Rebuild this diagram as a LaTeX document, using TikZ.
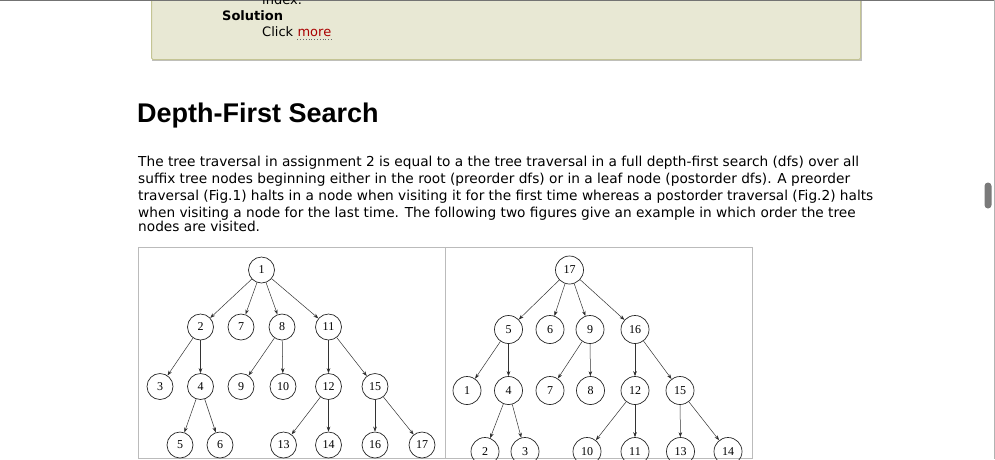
\documentclass[tikz,border=0pt]{standalone}
\usepackage{fontspec}
\setmainfont{DejaVu Sans}
\newfontfamily\headfont{Liberation Sans}
\newfontfamily\treefont{Liberation Serif}
\usetikzlibrary{arrows.meta,positioning}
\definecolor{boxfill}{HTML}{E8E8D4}
\definecolor{boxline}{HTML}{C4C494}
\definecolor{linkred}{HTML}{AA0000}
\definecolor{figline}{HTML}{BBBBBB}
\tikzset{
  txt/.style={inner sep=0pt,anchor=base west,font=\fontsize{13}{16}\selectfont},
  para/.style={txt,font=\fontsize{13.7}{16}\selectfont},
  vtx/.style={circle,draw=black!85,line width=.7pt,minimum size=26pt,inner sep=0pt,
    font=\treefont\fontsize{12}{13}\selectfont},
  bigvtx/.style={vtx,minimum size=28pt},
  tree/.style={draw=black!80,line width=.5pt,-{Stealth[length=5pt,width=3.6pt]}}
}
\begin{document}
\begin{tikzpicture}[x=1pt,y=-1pt]
\useasboundingbox (0,0) rectangle (995,459);
\clip (0,0) rectangle (995,459);
% solution box
\fill[black!25] (152,-10) rectangle (862,61);
\draw[boxline,fill=boxfill,line width=1pt,rounded corners=1.5pt] (151.5,-10) rectangle (860.5,59.5);
\draw[black!55,line width=1.2pt] (0,0.5) -- (995,0.5);
\draw[black!30,line width=1pt] (994.5,0) -- (994.5,459);
\path
(262,4.5) node[txt] (idx) {index.}
(222,20) node[txt,font=\fontsize{13}{16}\selectfont\bfseries] (sol) {Solution}
(262,36.5) node[txt] (click) {Click};
\node[txt,text=linkred] (more) at ([xshift=4pt]click.base east) {more};
\draw[black!60,dotted,line width=.8pt] ([yshift=-2.5pt]more.base west) -- ([yshift=-2.5pt]more.base east);
% heading and text
\node[txt,font=\headfont\fontsize{27}{30}\selectfont\bfseries] (head) at (137,122) {Depth-First Search};
\path
(138,166) node[para] (p1) {The tree traversal in assignment 2 is equal to a the tree traversal in a full depth-first search (dfs) over all}
(138,183) node[para] (p2) {suffix tree nodes beginning either in the root (preorder dfs) or in a leaf node (postorder dfs). A preorder}
(138,200) node[para] (p3) {traversal (Fig.1) halts in a node when visiting it for the first time whereas a postorder traversal (Fig.2) halts}
(138,217) node[para] (p4) {when visiting a node for the last time. The following two figures give an example in which order the tree}
(138,231) node[para] (p5) {nodes are visited.};
% scrollbar
\fill[black!52,rounded corners=3.5pt] (984.5,182.5) rectangle (991.5,208.5);
% figure frame
\draw[figline,line width=1pt] (138.5,247.5) rectangle (752.5,458.5);
\draw[figline,line width=1pt] (445.5,247.5) -- (445.5,458.5);
% preorder tree
\path
(261.5,270) node[vtx] (a1) {1}
(200.5,327) node[vtx] (a2) {2}
(241,327) node[vtx] (a7) {7}
(282,327) node[vtx] (a8) {8}
(328.5,327) node[vtx] (a11) {11}
(160,386.5) node[vtx] (a3) {3}
(200.5,386.5) node[vtx] (a4) {4}
(241,386.5) node[vtx] (a9) {9}
(283,386.5) node[vtx] (a10) {10}
(328.5,386.5) node[vtx] (a12) {12}
(375,386.5) node[vtx] (a15) {15}
(180,445) node[vtx] (a5) {5}
(220,445) node[vtx] (a6) {6}
(283.5,445) node[vtx] (a13) {13}
(328.5,445) node[vtx] (a14) {14}
(375,445) node[vtx] (a16) {16}
(422,445) node[vtx] (a17) {17};
\draw[tree] (a1) edge (a2) edge (a7) edge (a8) edge (a11);
\draw[tree] (a2) edge (a3) edge (a4);
\draw[tree] (a4) edge (a5) edge (a6);
\draw[tree] (a8) edge (a9) edge (a10);
\draw[tree] (a11) edge (a12) edge (a15);
\draw[tree] (a12) edge (a13) edge (a14);
\draw[tree] (a15) edge (a16) edge (a17);
% postorder tree
\path
(569.5,270) node[bigvtx] (b17) {17}
(508.5,329.5) node[bigvtx] (b5) {5}
(550,329.5) node[bigvtx] (b6) {6}
(590,329.5) node[bigvtx] (b9) {9}
(635,329.5) node[bigvtx] (b16) {16}
(467,390.5) node[bigvtx] (b1) {1}
(508.5,390.5) node[bigvtx] (b4) {4}
(550,390.5) node[bigvtx] (b7) {7}
(590.5,390.5) node[bigvtx] (b8) {8}
(635,390.5) node[bigvtx] (b12) {12}
(680,390.5) node[bigvtx] (b15) {15}
(485,451.5) node[bigvtx] (b2) {2}
(525,451.5) node[bigvtx] (b3) {3}
(587,451.5) node[bigvtx] (b10) {10}
(635,451.5) node[bigvtx] (b11) {11}
(680.5,451.5) node[bigvtx] (b13) {13}
(728,451.5) node[bigvtx] (b14) {14};
\draw[tree] (b17) edge (b5) edge (b6) edge (b9) edge (b16);
\draw[tree] (b5) edge (b1) edge (b4);
\draw[tree] (b4) edge (b2) edge (b3);
\draw[tree] (b9) edge (b7) edge (b8);
\draw[tree] (b16) edge (b12) edge (b15);
\draw[tree] (b12) edge (b10) edge (b11);
\draw[tree] (b15) edge (b13) edge (b14);
\end{tikzpicture}
\end{document}
